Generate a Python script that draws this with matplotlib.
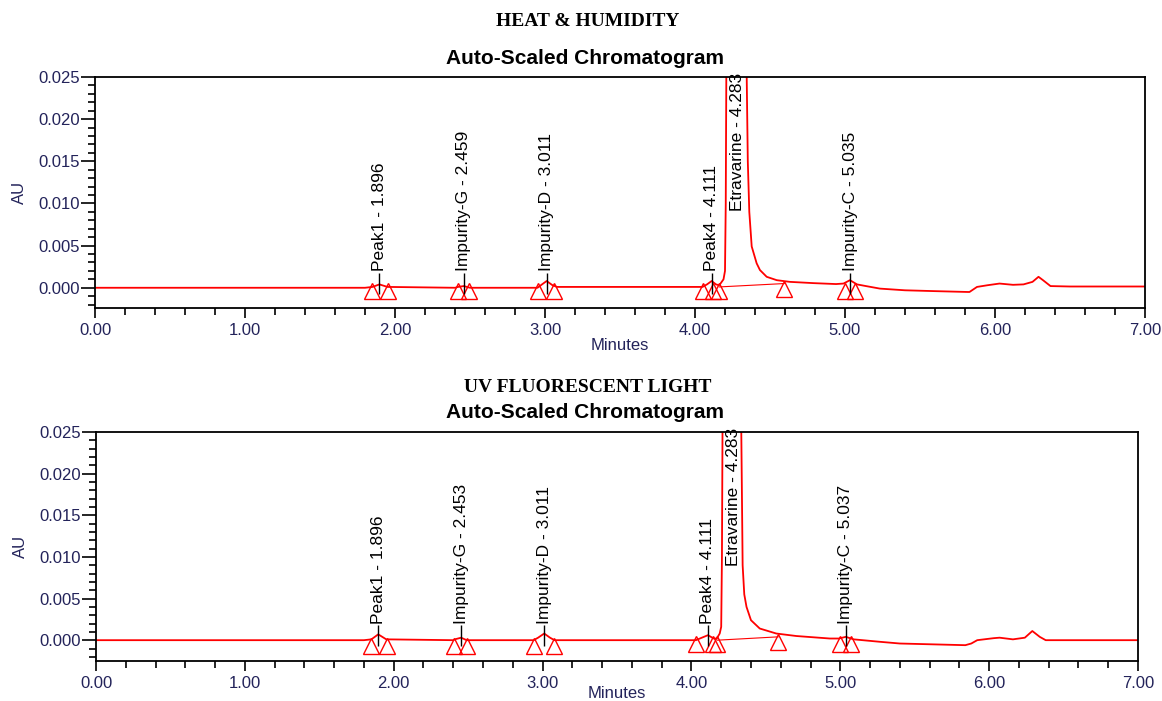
import numpy as np
import matplotlib
matplotlib.use("Agg")
import matplotlib.pyplot as plt
from matplotlib.ticker import MultipleLocator, FormatStrFormatter

plt.rcParams['font.family'] = ['Liberation Sans', 'DejaVu Sans']

# ---- heat & humidity trace (minutes, AU)
t_heat = [0.00, 1.80, 1.85, 1.896, 1.95, 2.40, 2.42, 2.459, 2.50, 2.95, 2.98, 3.011, 3.05, 3.08,
          4.05, 4.08, 4.111, 4.14, 4.16, 4.17, 4.19, 4.20, 4.205, 4.21, 4.23, 4.283, 4.33,
          4.344, 4.352, 4.362, 4.378, 4.411, 4.433, 4.478, 4.545, 4.633, 4.79, 4.94, 4.99,
          5.033, 5.08, 5.14, 5.233, 5.40, 5.60, 5.82, 5.83, 5.88, 5.95, 6.03, 6.12, 6.19,
          6.25, 6.29, 6.32, 6.37, 6.50, 7.00]
au_heat = [0.0000, 0.0000, 0.0001, 0.0004, 0.0001, 0.0000, 0.0001, 0.0002, 0.0000, 0.0000, 0.0004, 0.0008, 0.0003, 0.0001,
           0.0001, 0.0004, 0.0008, 0.0004, 0.0003, 0.0005, 0.0010, 0.0020, 0.0100, 0.0300, 0.0800, 0.1500, 0.0800,
           0.0260, 0.0150, 0.0090, 0.0049, 0.0029, 0.0021, 0.0013, 0.0009, 0.0007, 0.00055, 0.00044, 0.0005,
           0.0009, 0.0004, 0.0002, -0.0001, -0.0003, -0.0004, -0.0005, -0.0005, 0.0001, 0.0003, 0.0005, 0.00035, 0.0004,
           0.0007, 0.0013, 0.0009, 0.0002, 0.00015, 0.00015]

# ---- uv fluorescent light trace
t_uv = [0.00, 1.80, 1.85, 1.896, 1.95, 2.40, 2.41, 2.453, 2.49, 2.94, 2.97, 3.011, 3.05, 3.08,
        4.03, 4.07, 4.111, 4.15, 4.17, 4.19, 4.20, 4.205, 4.21, 4.23, 4.283, 4.325,
        4.335, 4.344, 4.355, 4.37, 4.40, 4.459, 4.57, 4.705, 4.93, 4.99, 5.037, 5.09,
        5.15, 5.27, 5.40, 5.84, 5.88, 5.92, 6.03, 6.07, 6.16, 6.24, 6.29, 6.34, 6.38, 7.00]
au_uv = [0.0000, 0.0000, 0.0001, 0.0007, 0.0001, 0.0000, 0.0001, 0.0003, 0.0000, 0.0000, 0.0003, 0.0008, 0.0003, 0.0000,
         0.0000, 0.0003, 0.0006, 0.0002, 0.0002, 0.0008, 0.0016, 0.0100, 0.0300, 0.0800, 0.1500, 0.0800,
         0.0250, 0.0090, 0.0055, 0.0040, 0.0024, 0.0014, 0.0008, 0.0005, 0.0002, 0.0002, 0.0004, 0.0001,
         0.0000, -0.0002, -0.0004, -0.0006, -0.0004, 0.0000, 0.00024, 0.0003, 0.0001, 0.0003, 0.0011, 0.0004, 0.0000, 0.0000]

# ---- peak labels
peaks_heat = ["Peak1 - 1.896", "Impurity-G - 2.459", "Impurity-D - 3.011", "Peak4 - 4.111", "Etravarine - 4.283", "Impurity-C - 5.035"]
rt_heat = [1.896, 2.459, 3.011, 4.111, 4.283, 5.035]
peaks_uv = ["Peak1 - 1.896", "Impurity-G - 2.453", "Impurity-D - 3.011", "Peak4 - 4.111", "Etravarine - 4.283", "Impurity-C - 5.037"]
rt_uv = [1.896, 2.453, 3.011, 4.111, 4.283, 5.037]

# ---- integration start/end marks
tri_t_heat = [1.844, 1.953, 2.418, 2.495, 2.955, 3.06, 4.055, 4.12, 4.162, 4.595, 5.0, 5.067]
tri_au_heat = [-0.0004, -0.0004, -0.0004, -0.0004, -0.0004, -0.0004, -0.0004, -0.0004, -0.0004, -0.0002, -0.0004, -0.0004]
tri_t_uv = [1.847, 1.952, 2.408, 2.49, 2.945, 3.08, 4.028, 4.145, 4.174, 4.582, 4.997, 5.075]
tri_au_uv = [-0.0007, -0.0007, -0.0007, -0.0007, -0.0007, -0.0007, -0.0005, -0.0005, -0.0005, -0.0002, -0.0005, -0.0005]

# drop line under main peak (start, end)
base_heat = ([4.162, 4.595], [0.0001, 0.0005])
base_uv = ([4.174, 4.582], [0.0000, 0.0004])

navy = '#23235a'

fig = plt.figure(figsize=(11.62, 7.01), dpi=100)
W, H = 1162.0, 701.0


def panel(rect, t, au, names, rts, tri_t, tri_au, base, ylo, xlpad):
    ax = fig.add_axes(rect)
    ax.plot(t, au, color='#ff0000', lw=1.3)
    ax.plot(base[0], base[1], color='#ff0000', lw=0.8)
    ax.plot(tri_t, tri_au, ls='none', marker='^', ms=12, mfc='none', mec='#ff0000', mew=1.0)
    for name, rt in zip(names, rts):
        if name.startswith("Etravarine"):
            ax.text(rt, 0.0255, name, rotation=90, ha='center', va='top', fontsize=12.5, clip_on=False)
            continue
        ax.vlines(rt, -0.0007, 0.0018, color='black', lw=1)
        ax.text(rt, 0.0020, name, rotation=90, ha='center', va='bottom', fontsize=12.5)
    ax.set_xlim(0, 7)
    ax.set_ylim(ylo, 0.025)
    ax.xaxis.set_major_locator(MultipleLocator(1.0))
    ax.xaxis.set_minor_locator(MultipleLocator(0.2))
    ax.yaxis.set_major_locator(MultipleLocator(0.005))
    ax.yaxis.set_minor_locator(MultipleLocator(0.001))
    ax.xaxis.set_major_formatter(FormatStrFormatter('%.2f'))
    ax.yaxis.set_major_formatter(FormatStrFormatter('%.3f'))
    ax.tick_params(which='major', direction='out', length=7, width=1.2, labelsize=12, labelcolor=navy)
    ax.tick_params(axis='x', which='major', pad=4)
    ax.tick_params(axis='y', which='major', length=10, pad=1)
    ax.tick_params(which='minor', direction='out', length=5, width=1.2)
    for s in ax.spines.values():
        s.set_linewidth(1.3)
    ax.set_xlabel('Minutes', fontsize=12, color=navy, labelpad=xlpad)
    ax.set_ylabel('AU', fontsize=12, color=navy, labelpad=8)
    return ax


panel([95 / W, 1 - 308 / H, 1050 / W, 231 / H], t_heat, au_heat, peaks_heat, rt_heat,
      tri_t_heat, tri_au_heat, base_heat, -0.0024, 0)
panel([96 / W, 1 - 661 / H, 1042 / W, 229 / H], t_uv, au_uv, peaks_uv, rt_uv,
      tri_t_uv, tri_au_uv, base_uv, -0.0025, -4)

fig.text(588 / W, 1 - 22 / H, 'HEAT & HUMIDITY', ha='center', va='center',
         fontsize=14, fontweight='bold', family='Liberation Serif')
fig.text(585 / W, 1 - 58 / H, 'Auto-Scaled Chromatogram', ha='center', va='center',
         fontsize=15, fontweight='bold')
fig.text(588 / W, 1 - 388 / H, 'UV FLUORESCENT LIGHT', ha='center', va='center',
         fontsize=14, fontweight='bold', family='Liberation Serif')
fig.text(585 / W, 1 - 413 / H, 'Auto-Scaled Chromatogram', ha='center', va='center',
         fontsize=15, fontweight='bold')

fig.savefig('out.png', dpi=100)
